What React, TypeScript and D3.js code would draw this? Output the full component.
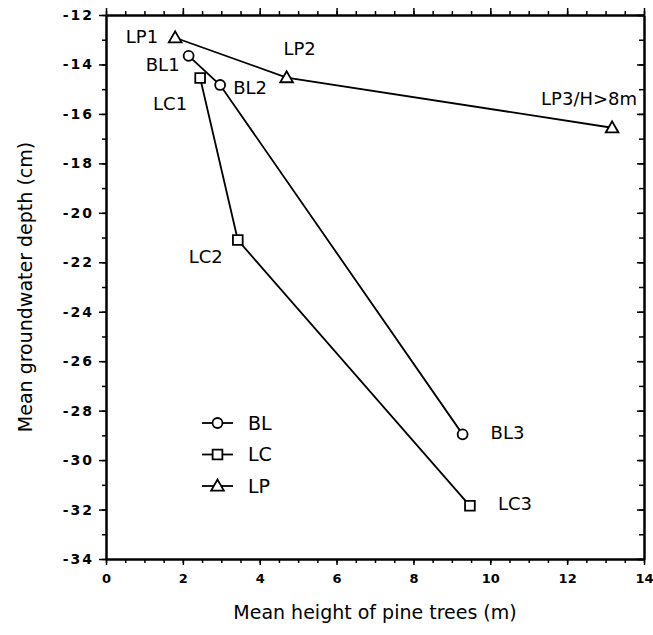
import React, { useEffect, useRef } from "react";
import * as d3 from "d3";

// mean height of pine trees (m) vs mean groundwater depth (cm)
const blX = [2.15, 2.97, 9.28];
const blY = [-13.65, -14.83, -28.96];
const lcX = [2.45, 3.43, 9.47];
const lcY = [-14.55, -21.1, -31.85];
const lpX = [1.8, 4.7, 13.17];
const lpY = [-12.92, -14.53, -16.56];

const blNames = ["BL1", "BL2", "BL3"];
const lcNames = ["LC1", "LC2", "LC3"];
const lpNames = ["LP1", "LP2", "LP3/H>8m"];

const xTicks = [0, 2, 4, 6, 8, 10, 12, 14];
const yTicks = [-12, -14, -16, -18, -20, -22, -24, -26, -28, -30, -32, -34];

// label placement relative to each point: [dx, dy, anchor]
const blLabelPos: [number, number, string][] = [[-9, 9, "end"], [13, 3, "start"], [28, -2, "start"]];
const lcLabelPos: [number, number, string][] = [[-13, 25, "end"], [-15, 17, "end"], [28, -2, "start"]];
const lpLabelPos: [number, number, string][] = [[-17, -1, "end"], [13, -29, "middle"], [-23, -29, "middle"]];

const App = () => {
  const svgRef = useRef<SVGSVGElement>(null);
  const width = 653;
  const height = 635;

  useEffect(() => {
    const svg = d3.select(svgRef.current);
    svg.selectAll("*").remove();

    const left = 106, right = 644, top = 15, bottom = 559;

    const x = d3.scaleLinear().domain([0, 14]).range([left, right]);
    const y = d3.scaleLinear().domain([-12, -34]).range([top, bottom]);

    const font = "DejaVu Sans, sans-serif";

    const styleAxis = (g) => {
      g.select(".domain").attr("stroke-width", 2);
      g.selectAll(".tick line").attr("stroke-width", 1.5);
    };

    const xMinor = d3.range(0, 14.01, 0.5);
    const yMinor = d3.range(-12, -34.01, -1);

    // bottom
    svg.append("g")
      .attr("transform", `translate(0,${bottom})`)
      .call(d3.axisBottom(x).tickValues(xMinor).tickSize(4).tickFormat(() => "").tickSizeOuter(0))
      .call(styleAxis);
    svg.append("g")
      .attr("transform", `translate(0,${bottom})`)
      .call(d3.axisBottom(x).tickValues(xTicks).tickSize(6).tickPadding(9).tickFormat(d3.format("d")).tickSizeOuter(0))
      .call(styleAxis)
      .call((g) => g.selectAll("text").style("font", `bold 13px ${font}`).attr("fill", "#000"));

    // top
    svg.append("g")
      .attr("transform", `translate(0,${top})`)
      .call(d3.axisTop(x).tickValues(xMinor).tickSize(4).tickFormat(() => "").tickSizeOuter(0))
      .call(styleAxis);
    svg.append("g")
      .attr("transform", `translate(0,${top})`)
      .call(d3.axisTop(x).tickValues(xTicks).tickSize(7).tickFormat(() => "").tickSizeOuter(0))
      .call(styleAxis);

    // left
    svg.append("g")
      .attr("transform", `translate(${left},0)`)
      .call(d3.axisLeft(y).tickValues(yMinor).tickSize(4).tickFormat(() => "").tickSizeOuter(0))
      .call(styleAxis);
    svg.append("g")
      .attr("transform", `translate(${left},0)`)
      .call(d3.axisLeft(y).tickValues(yTicks).tickSize(7).tickPadding(5).tickFormat((d) => String(d)).tickSizeOuter(0))
      .call(styleAxis)
      .call((g) => g.selectAll("text").style("font", `bold 14px ${font}`).attr("letter-spacing", 2).attr("fill", "#000"));

    // right
    svg.append("g")
      .attr("transform", `translate(${right},0)`)
      .call(d3.axisLeft(y).tickValues(yMinor).tickSize(5).tickFormat(() => "").tickSizeOuter(0))
      .call(styleAxis);
    svg.append("g")
      .attr("transform", `translate(${right},0)`)
      .call(d3.axisLeft(y).tickValues(yTicks).tickSize(7).tickFormat(() => "").tickSizeOuter(0))
      .call(styleAxis);

    // axis titles
    svg.append("text")
      .attr("x", (left + right) / 2)
      .attr("y", 619)
      .attr("text-anchor", "middle")
      .style("font", `19px ${font}`)
      .text("Mean height of pine trees (m)");
    svg.append("text")
      .attr("transform", `translate(32,${(top + bottom) / 2}) rotate(-90)`)
      .attr("text-anchor", "middle")
      .style("font", `19px ${font}`)
      .text("Mean groundwater depth (cm)");

    const series = [
      { name: "BL", xs: blX, ys: blY, names: blNames, pos: blLabelPos, sym: d3.symbolCircle, size: 78 },
      { name: "LC", xs: lcX, ys: lcY, names: lcNames, pos: lcLabelPos, sym: d3.symbolSquare, size: 95 },
      { name: "LP", xs: lpX, ys: lpY, names: lpNames, pos: lpLabelPos, sym: d3.symbolTriangle, size: 70 },
    ];

    series.forEach((s) => {
      const pts = s.xs.map((v, i) => [x(v), y(s.ys[i])] as [number, number]);
      svg.append("path")
        .attr("d", d3.line()(pts))
        .attr("fill", "none")
        .attr("stroke", "#000")
        .attr("stroke-width", 1.8);

      svg.append("g")
        .selectAll("path")
        .data(pts)
        .join("path")
        .attr("transform", (d) => `translate(${d[0]},${d[1] + (s.sym === d3.symbolTriangle ? 1 : 0)})`)
        .attr("d", d3.symbol(s.sym, s.size)())
        .attr("fill", "#fff")
        .attr("stroke", "#000")
        .attr("stroke-width", 1.8);

      svg.append("g")
        .selectAll("text")
        .data(pts)
        .join("text")
        .attr("x", (d, i) => d[0] + s.pos[i][0])
        .attr("y", (d, i) => d[1] + s.pos[i][1])
        .attr("dy", "0.36em")
        .attr("text-anchor", (d, i) => s.pos[i][2])
        .style("font", `18px ${font}`)
        .text((d, i) => s.names[i]);
    });

    // legend
    const legend = svg.append("g")
      .selectAll("g")
      .data(series)
      .join("g")
      .attr("transform", (d, i) => `translate(202,${423 + i * 31.5})`);
    legend.append("line")
      .attr("x1", 0).attr("x2", 31)
      .attr("stroke", "#000").attr("stroke-width", 1.8);
    legend.append("path")
      .attr("transform", (d) => `translate(15.5,${d.sym === d3.symbolTriangle ? 1 : 0})`)
      .attr("d", (d) => d3.symbol(d.sym, d.size)())
      .attr("fill", "#fff")
      .attr("stroke", "#000")
      .attr("stroke-width", 1.8);
    legend.append("text")
      .attr("x", 46)
      .attr("dy", "0.36em")
      .style("font", `19px ${font}`)
      .text((d) => d.name);
  }, []);

  return (
    <svg width={width} height={height} ref={svgRef} style={{ position: "absolute", left: 0, top: 0, background: "#fff" }}></svg>
  );
};

export default App;
